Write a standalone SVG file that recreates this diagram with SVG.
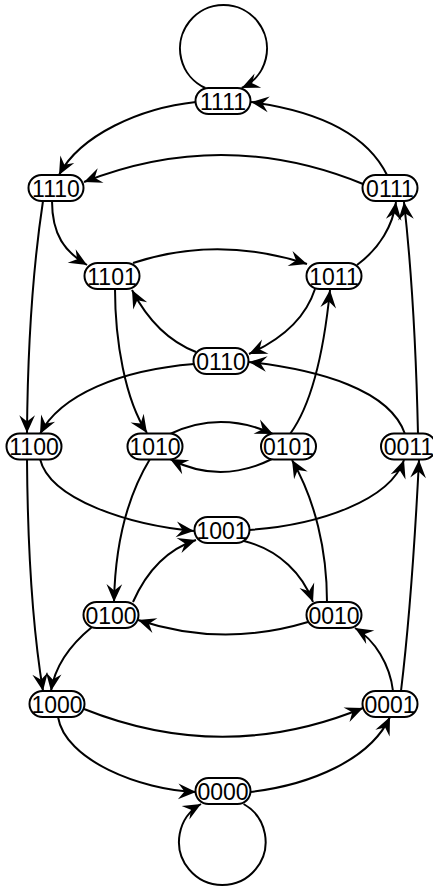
<svg xmlns="http://www.w3.org/2000/svg" width="433" height="886" viewBox="0 0 433 886">
<style>
.node rect{fill:#fff;stroke:#000;stroke-width:2}
.node text{font-family:"Liberation Sans",Arial,sans-serif;font-size:23px;text-anchor:middle;fill:#000}
.edges path{fill:none;stroke:#000;stroke-width:2;marker-end:url(#arr)}
</style>
<defs>
<marker id="arr" markerUnits="userSpaceOnUse" markerWidth="22" markerHeight="20" viewBox="-19 -9 21 18" refX="0" refY="0" orient="auto">
<path d="M0,0 L-17,-7.5 L-11,0 L-17,7.5 Z" fill="#000"/>
</marker>
</defs>
<rect width="433" height="886" fill="#fff"/>
<g id="edges" class="edges">
<path d="M205.3,88 A43.5 43.5 0 1 1 241.7,88"/>
<path d="M243.6,804 A43.3 43.3 0 1 1 201,804"/>
<path d="M196,102 C140,108 80,135 59,175"/>
<path d="M387,175 C365,130 310,110 251,102"/>
<path d="M363,184 Q224,127 84,182"/>
<path d="M52,201 C52,235 65,252 87,265"/>
<path d="M43,201 Q28,300 27,433"/>
<path d="M133,263 Q218,235 307,264"/>
<path d="M115,289 C115,340 125,400 147,433"/>
<path d="M357,265 C380,248 393,225 396,202"/>
<path d="M315,289 C305,320 280,340 249,354"/>
<path d="M196,352 C165,340 145,315 132,290"/>
<path d="M194,364 C120,370 60,395 40,434"/>
<path d="M405,434 C390,390 320,370 249,362"/>
<path d="M418,434 Q415,300 404,202"/>
<path d="M290,434 C315,400 325,340 330,290"/>
<path d="M170,434 Q220,410 273,434"/>
<path d="M272,459 Q220,485 170,459"/>
<path d="M150,459 C125,500 115,550 114,602"/>
<path d="M27,459 Q28,600 43,691"/>
<path d="M40,459 C50,500 130,525 194,531"/>
<path d="M249,530 C320,525 390,500 404,460"/>
<path d="M244,541 C280,550 303,575 313,602"/>
<path d="M133,602 C145,575 165,550 196,540"/>
<path d="M92,627 C70,645 55,665 51,691"/>
<path d="M308,622 Q222,648 138,620"/>
<path d="M327,602 C327,550 315,500 292,460"/>
<path d="M401,691 Q412,600 419,460"/>
<path d="M393,691 C390,665 375,640 355,628"/>
<path d="M84,709 Q224,765 363,708"/>
<path d="M58,717 C65,760 140,790 196,792"/>
<path d="M250,792 C310,785 370,760 390,717"/>
</g>
<g id="n1111" class="node"><rect x="195.5" y="88" width="55" height="26" rx="13"/><text x="223" y="109.5">1111</text></g>
<g id="n1110" class="node"><rect x="28.5" y="175" width="55" height="26" rx="13"/><text x="56" y="196.5">1110</text></g>
<g id="n0111" class="node"><rect x="362.5" y="175" width="55" height="26" rx="13"/><text x="390" y="196.5">0111</text></g>
<g id="n1101" class="node"><rect x="84.5" y="263" width="55" height="26" rx="13"/><text x="112" y="284.5">1101</text></g>
<g id="n1011" class="node"><rect x="306.5" y="263" width="55" height="26" rx="13"/><text x="334" y="284.5">1011</text></g>
<g id="n0110" class="node"><rect x="193.5" y="348" width="55" height="26" rx="13"/><text x="221" y="369.5">0110</text></g>
<g id="n1100" class="node"><rect x="6.5" y="433.5" width="55" height="26" rx="13"/><text x="34" y="455">1100</text></g>
<g id="n1010" class="node"><rect x="127.5" y="433.5" width="55" height="26" rx="13"/><text x="155" y="455">1010</text></g>
<g id="n0101" class="node"><rect x="261" y="433.5" width="55" height="26" rx="13"/><text x="288.5" y="455">0101</text></g>
<g id="n0011" class="node"><rect x="381" y="433.5" width="55" height="26" rx="13"/><text x="408.5" y="455">0011</text></g>
<g id="n1001" class="node"><rect x="194.5" y="517" width="55" height="26" rx="13"/><text x="222" y="538.5">1001</text></g>
<g id="n0100" class="node"><rect x="83.5" y="602" width="55" height="26" rx="13"/><text x="111" y="623.5">0100</text></g>
<g id="n0010" class="node"><rect x="306.5" y="602" width="55" height="26" rx="13"/><text x="334" y="623.5">0010</text></g>
<g id="n1000" class="node"><rect x="29.5" y="691" width="55" height="26" rx="13"/><text x="57" y="712.5">1000</text></g>
<g id="n0001" class="node"><rect x="362.5" y="691" width="55" height="26" rx="13"/><text x="390" y="712.5">0001</text></g>
<g id="n0000" class="node"><rect x="195.5" y="778" width="55" height="26" rx="13"/><text x="223" y="799.5">0000</text></g>
</svg>
